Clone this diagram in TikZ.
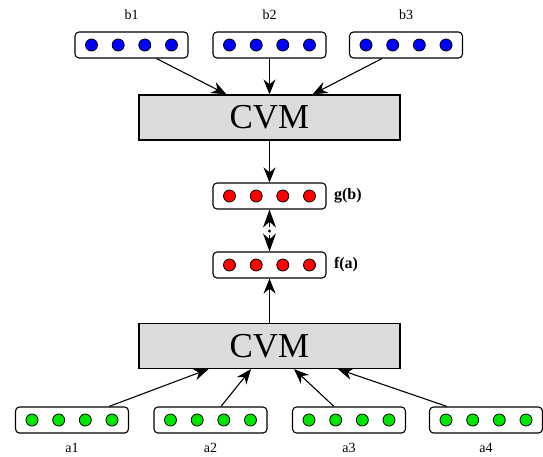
\documentclass[tikz,border=0pt]{standalone}
\usepackage{fontspec}
\setmainfont{Liberation Serif}
\usetikzlibrary{calc,arrows.meta}
\definecolor{cvmgray}{HTML}{DCDCDC}
\definecolor{ublue}{HTML}{0000FF}
\definecolor{ured}{HTML}{FF0000}
\definecolor{ugreen}{HTML}{00E600}
\tikzset{
  vec/.style={draw=black, line width=1.1pt, rounded corners=4pt, minimum width=113pt, minimum height=26pt, inner sep=0pt},
  unit/.style={circle, draw=black, line width=0.8pt, minimum size=12pt, inner sep=0pt},
  cvm/.style={draw=black, line width=1.2pt, fill=cvmgray, minimum width=261pt, minimum height=45pt, inner sep=0pt, font=\fontsize{35}{40}\selectfont},
  lab/.style={font=\fontsize{14}{16}\selectfont},
  labb/.style={font=\fontsize{16}{18}\selectfont\bfseries},
  arr/.style={draw=black, line width=1.1pt, -{Stealth[length=15pt,width=12pt]}},
  dbl/.style={draw=black, line width=1.1pt, -{Stealth[length=18pt,width=13pt]}},
}
% four units inside a vector box
\newcommand{\units}[2]{%
  \foreach \dx in {-40,-13.3,13.3,40}
    \node[unit,fill=#2] at ($(#1)+(\dx,0)$) {};
}

\begin{document}
\begin{tikzpicture}[x=1pt,y=1pt]
  \useasboundingbox (0,0) rectangle (543,-456);

  % input vectors b
  \node[vec,label={[lab,label distance=8pt]above:b1}] (b1) at (131.5,-45) {};
  \node[vec,label={[lab,label distance=8pt]above:b2}] (b2) at (269.5,-45) {};
  \node[vec,label={[lab,label distance=8pt]above:b3}] (b3) at (406,-45) {};
  \units{b1}{ublue}
  \units{b2}{ublue}
  \units{b3}{ublue}

  \node[cvm] (cvmt) at (269.5,-117.5) {CVM};
  \draw[arr] ([xshift=25pt]b1.south) -- ([xshift=-43pt]cvmt.north);
  \draw[arr] (b2.south) -- (cvmt.north);
  \draw[arr] ([xshift=-24pt]b3.south) -- ([xshift=43pt]cvmt.north);

  % composed vectors
  \node[vec,label={[labb,label distance=4pt]right:g(b)}] (g) at (269.5,-196) {};
  \node[vec,label={[labb,label distance=4pt]right:f(a)}] (f) at (269.5,-265) {};
  \units{g}{ured}
  \units{f}{ured}
  \node[circle,fill=black,inner sep=1.1pt,outer sep=2pt] (dot) at (269.5,-231) {};
  \draw[arr] (cvmt.south) -- (g.north);
  \draw[dbl] (dot) -- (g.south);
  \draw[dbl] (dot) -- (f.north);

  % input vectors a
  \node[cvm] (cvmb) at (269.5,-346) {CVM};
  \draw[arr] (cvmb.north) -- (f.south);
  \node[vec,label={[lab,label distance=6pt]below:a1}] (a1) at (72,-420) {};
  \node[vec,label={[lab,label distance=6pt]below:a2}] (a2) at (210.5,-420) {};
  \node[vec,label={[lab,label distance=6pt]below:a3}] (a3) at (349,-420) {};
  \node[vec,label={[lab,label distance=6pt]below:a4}] (a4) at (486,-420) {};
  \units{a1}{ugreen}
  \units{a2}{ugreen}
  \units{a3}{ugreen}
  \units{a4}{ugreen}
  \draw[arr] ([xshift=37pt]a1.north) -- ([xshift=-61pt]cvmb.south);
  \draw[arr] ([xshift=10.5pt]a2.north) -- ([xshift=-18.5pt]cvmb.south);
  \draw[arr] ([xshift=-15pt]a3.north) -- ([xshift=24.5pt]cvmb.south);
  \draw[arr] ([xshift=-39pt]a4.north) -- ([xshift=68.5pt]cvmb.south);
\end{tikzpicture}
\end{document}
